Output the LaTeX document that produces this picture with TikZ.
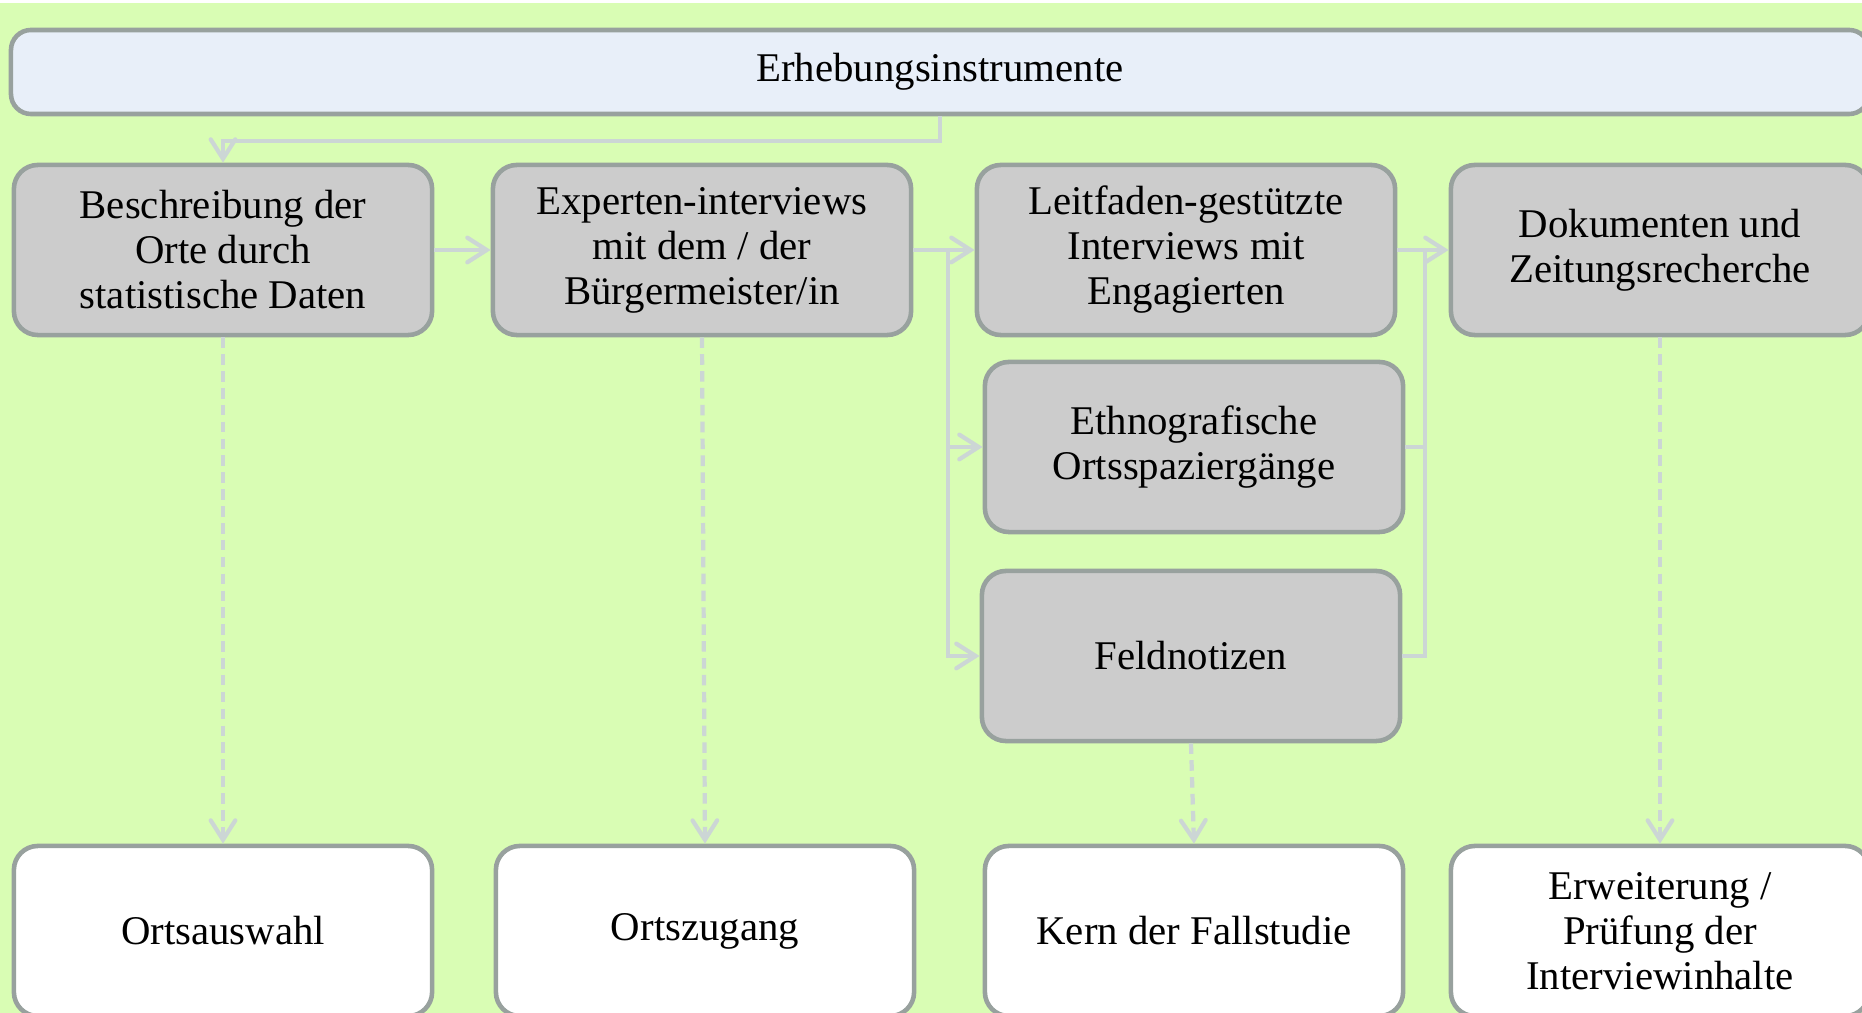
\documentclass[tikz,border=0pt]{standalone}
\usepackage{fontspec}
\setmainfont{Liberation Serif}
\usepackage{xcolor}
\usetikzlibrary{arrows.meta, positioning, calc}
\definecolor{bggreen}{RGB}{217, 253, 180}
\definecolor{boxgray}{RGB}{204, 204, 204}
\definecolor{boxline}{RGB}{152, 161, 158}
\definecolor{topblue}{RGB}{232, 239, 249}
\definecolor{linkgray}{RGB}{204, 214, 213}

\begin{document}
\begin{tikzpicture}[x=0.01cm, y=-0.01cm,
    box/.style={draw=boxline, line width=1.3pt, fill=boxgray, rounded corners=0.24cm,
        minimum width=4.18cm, minimum height=1.7cm, align=center, inner sep=2pt,
        font=\fontsize{11.6}{12.8}\selectfont},
    resultbox/.style={box, fill=white},
    link/.style={draw=linkgray, line width=1.2pt,
        -{Straight Barb[length=5.5pt, width=7pt, line cap=round]}},
    plainlink/.style={draw=linkgray, line width=1.2pt},
    dlink/.style={link, dash pattern=on 3pt off 1.8pt}]
    % Hintergrund
    \useasboundingbox (0,0) rectangle (1862,1013);
    \fill[white] (0,0) rectangle (1862,1013);
    \fill[bggreen] (0,3) rectangle (1862,1013);
    \clip (0,0) rectangle (1862,1013);

    % Kopfzeile
    \node[box, fill=topblue, minimum width=18.57cm, minimum height=0.84cm, rounded corners=0.2cm]
        (top) at (940,72) {\raisebox{-2pt}{Erhebungsinstrumente}};

    % Instrumente (obere Reihe)
    \node[box] (stat) at (223,250) {Beschreibung der\\Orte durch\\statistische Daten};
    \node[box] (expert) at (702,250) {Experten-interviews\\mit dem / der\\Bürgermeister/in};
    \node[box] (leit) at (1186,250) {Leitfaden-gestützte\\Interviews mit\\Engagierten};
    \node[box] (doku) at (1660,250) {Dokumenten und\\Zeitungsrecherche};

    % Instrumente (mittlere Spalte)
    \node[box] (ethno) at (1194,447) {Ethnografische\\Ortsspaziergänge};
    \node[box] (feld) at (1191,656) {Feldnotizen};

    % Ergebnisse (untere Reihe)
    \node[resultbox] (auswahl) at (223,931) {Ortsauswahl};
    \node[resultbox] (zugang) at (705,931) {Ortszugang};
    \node[resultbox] (kern) at (1194,931) {Kern der Fallstudie};
    \node[resultbox] (erweit) at (1660,931) {Erweiterung /\\Prüfung der\\Interviewinhalte};

    % Verbindungen
    \draw[link] (top.south) -- ++(0,25) -| (stat.north);
    \draw[link] (stat.east) -- (expert.west);
    \draw[link] (expert.east) -- (leit.west);
    \coordinate (lsplit) at (948,250);
    \draw[link] (lsplit) |- (ethno.west);
    \draw[link] (lsplit) |- (feld.west);
    \draw[link] (leit.east) -- (doku.west);
    \coordinate (rjoin) at (1425,250);
    \draw[plainlink] (ethno.east) -| (rjoin);
    \draw[plainlink] (feld.east) -| (rjoin);

    % gestrichelte Pfeile zu den Ergebnissen
    \draw[dlink] (stat.south) -- (auswahl.north);
    \draw[dlink] (expert.south) -- (zugang.north);
    \draw[dlink] (feld.south) -- (kern.north);
    \draw[dlink] (doku.south) -- (erweit.north);

\end{tikzpicture}
\end{document}
